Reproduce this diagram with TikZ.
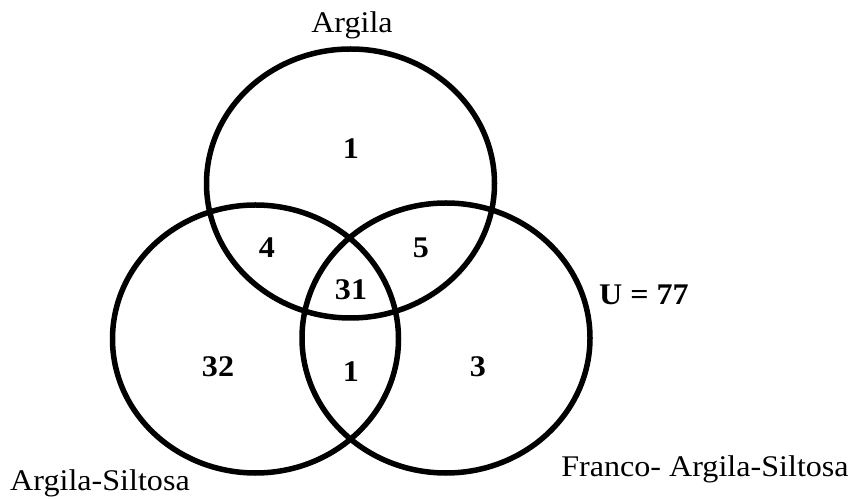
\documentclass[tikz,border=0pt]{standalone}
\usepackage{fontspec}
\setmainfont{Liberation Serif}[FakeStretch=1.07]
\usepackage{amsmath}

\tikzset{
    menge/.style={line width=5.5pt},
    zahl/.style={font=\fontsize{30}{35}\selectfont\bfseries, anchor=base},
    mengenname/.style={font=\fontsize{30}{35}\selectfont, anchor=base}
}

\begin{document}
\begin{tikzpicture}[x=1pt,y=1pt]
            \useasboundingbox (0,0) rectangle (854,498);
            % Mengen:
            \draw[menge] (350.5,314.5) ellipse (144 and 134.5);
            \draw[menge] (255.5,159) ellipse (143 and 134);
            \draw[menge] (446,160) ellipse (144 and 135);
            % Namen:
            \node[mengenname] (argila) at (352,465) {Argila};
            \node[mengenname] (siltosa) at (100,8) {Argila-Siltosa};
            \node[mengenname] (franco) at (705,21) {Franco- Argila-Siltosa};
            \node[zahl] (universo) at (644,193) {U = 77};
            % Anzahlen:
            \node[zahl] (nA) at (351,339) {1};
            \node[zahl] (nAS) at (267,240) {4};
            \node[zahl] (nAF) at (421,240) {5};
            \node[zahl] (nASF) at (351,198) {31};
            \node[zahl] (nS) at (218,121) {32};
            \node[zahl] (nSF) at (351,116) {1};
            \node[zahl] (nF) at (478,121) {3};
\end{tikzpicture}
\end{document}
